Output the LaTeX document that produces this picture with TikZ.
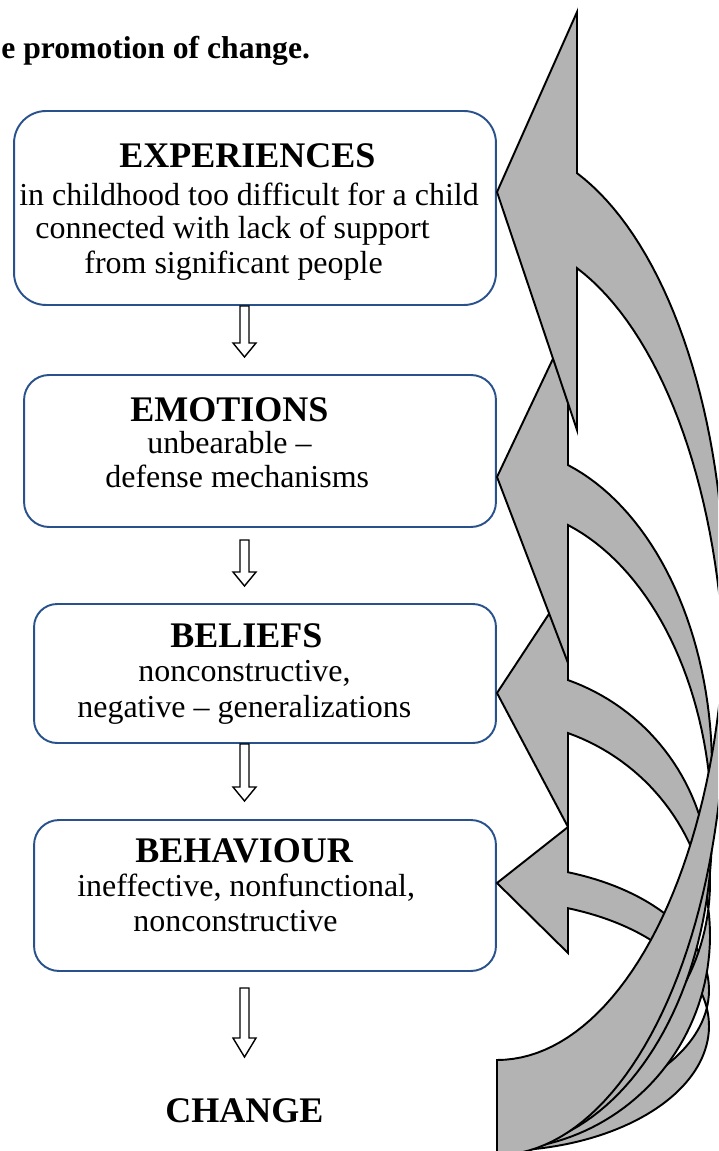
\documentclass[tikz,border=0pt]{standalone}
\usepackage{fontspec}
\setmainfont{Liberation Serif}
\definecolor{boxblue}{RGB}{41,82,140}
\definecolor{arrowgray}{RGB}{179,179,179}
\newcommand\bodysize{\fontsize{18.2}{21}\selectfont}
\newcommand\headsize{\fontsize{20.5}{23}\selectfont\bfseries}
\newcommand\titlesize{\fontsize{18}{21}\selectfont\bfseries}
\newcommand\blockarrow[3]{%
  \draw[hollowarrow] (240,#1) -- (249,#1) -- (249,#2) -- (256,#2) -- (244.5,#3) -- (233,#2) -- (240,#2) -- cycle;}
\begin{document}
\begin{tikzpicture}[x=0.02cm,y=-0.02cm,
  box/.style={draw=boxblue, line width=1.1pt, inner sep=0pt, fill=white},
  body/.style={anchor=base west, inner sep=0pt, font=\bodysize},
  head/.style={anchor=base west, inner sep=0pt, font=\headsize},
  hollowarrow/.style={draw=black, fill=white, line width=0.8pt, line join=miter},
  curvedarrow/.style={draw=black, fill=arrowgray, line width=1.1pt, line join=miter}]
\useasboundingbox (0,0) rectangle (718,1151);
\clip (0,0) rectangle (718,1151);

% title
\node[anchor=base west, inner sep=0pt, font=\titlesize] (title) at (1,59) {e promotion of change.};

% boxes
\node[box, rounded corners=0.64cm, minimum width=9.64cm, minimum height=3.88cm] (b1) at (255,208) {};
\node[box, rounded corners=0.5cm, minimum width=9.44cm, minimum height=3.04cm] (b2) at (260,451) {};
\node[box, rounded corners=0.46cm, minimum width=9.24cm, minimum height=2.78cm] (b3) at (265,673.5) {};
\node[box, rounded corners=0.5cm, minimum width=9.24cm, minimum height=3.02cm] (b4) at (265,895.5) {};

% texts
\node[head] (h1) at (119,168) {EXPERIENCES};
\node[body] (l11) at (19,206) {in childhood too difficult for a child};
\node[body] (l12) at (35,239) {connected with lack of support};
\node[body] (l13) at (84,274) {from significant people};

\node[head] (h2) at (130,421) {EMOTIONS};
\node[body] (l21) at (147,453) {unbearable –};
\node[body] (l22) at (105,487) {defense mechanisms};

\node[head] (h3) at (170,647) {BELIEFS};
\node[body] (l31) at (138,681) {nonconstructive,};
\node[body] (l32) at (77,717) {negative – generalizations};

\node[head] (h4) at (135,862) {BEHAVIOUR};
\node[body] (l41) at (77,896) {ineffective, nonfunctional,};
\node[body] (l42) at (133,931) {nonconstructive};

\node[head] (h5) at (165,1122) {CHANGE};

% hollow down arrows
\blockarrow{306}{343}{357}
\blockarrow{540}{572}{586}
\blockarrow{744}{787}{801}
\blockarrow{988}{1038}{1057}

% curved arrows (bottom to top order)
\draw[curvedarrow] (497,883) -- (568,827)
  -- plot[domain=-70.43:90, samples=80] ({497+212*cos(\x)},{990+125*sin(\x)})
  -- plot[domain=-70.43:90, samples=80] ({497+212*cos(19.57-\x)},{1026+125*sin(19.57-\x)})
  -- (568,953) -- cycle;
\draw[curvedarrow] (497,693) -- (568,585)
  -- plot[domain=-70.53:90, samples=80] ({497+213*cos(\x)},{882.4+214.6*sin(\x)})
  -- plot[domain=-70.53:90, samples=80] ({497+213*cos(19.47-\x)},{935.4+214.6*sin(19.47-\x)})
  -- (568,827) -- cycle;
\draw[curvedarrow] (497,477) -- (568,327)
  -- plot[domain=-70.72:90, samples=80] ({497+215*cos(\x)},{768.5+321.5*sin(\x)})
  -- plot[domain=-70.72:90, samples=80] ({497+215*cos(19.28-\x)},{828.5+321.5*sin(19.28-\x)})
  -- (568,663) -- cycle;
\draw[curvedarrow] (497,192) -- (577,12)
  -- plot[domain=-69.46:90, samples=80] ({497+228*cos(\x)},{602+458*sin(\x)})
  -- plot[domain=-69.46:90, samples=80] ({497+228*cos(20.54-\x)},{697+458*sin(20.54-\x)})
  -- (577,430) -- cycle;
\end{tikzpicture}
\end{document}
